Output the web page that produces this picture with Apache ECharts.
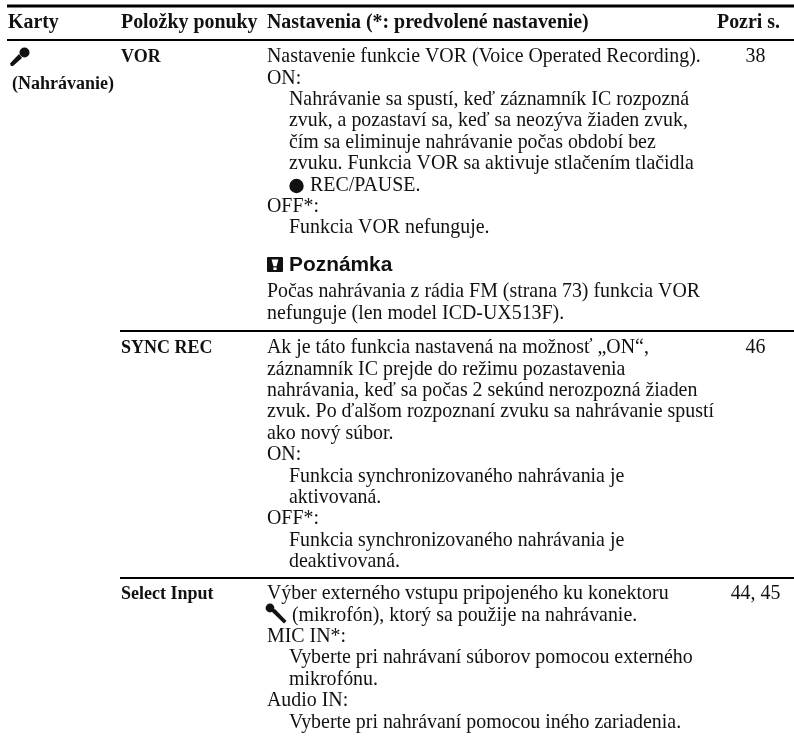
<!DOCTYPE html>
<html>
<head>
<meta charset="utf-8">
<style>
  html, body { margin: 0; padding: 0; background: #fff; }
  #main { width: 794px; height: 736px; }
</style>
<script src="https://cdn.jsdelivr.net/npm/echarts@6/dist/echarts.min.js"></script>
</head>
<body>
<div id="main"></div>
<script>
// table text, [indent level, line]
const headers = ['Karty', 'Položky ponuky', 'Nastavenia (*: predvolené nastavenie)', 'Pozri s.'];
const tabName = '(Nahrávanie)';
const items = ['VOR', 'SYNC REC', 'Select Input'];
const pages = ['38', '46', '44, 45'];
const vorLines = [
  [0, 'Nastavenie funkcie VOR (Voice Operated Recording).'],
  [0, 'ON:'],
  [1, 'Nahrávanie sa spustí, keď záznamník IC rozpozná'],
  [1, 'zvuk, a pozastaví sa, keď sa neozýva žiaden zvuk,'],
  [1, 'čím sa eliminuje nahrávanie počas období bez'],
  [1, 'zvuku. Funkcia VOR sa aktivuje stlačením tlačidla'],
  [2, 'REC/PAUSE.'],
  [0, 'OFF*:'],
  [1, 'Funkcia VOR nefunguje.']
];
const noteTitle = 'Poznámka';
const noteLines = [
  [0, 'Počas nahrávania z rádia FM (strana 73) funkcia VOR'],
  [0, 'nefunguje (len model ICD-UX513F).']
];
const syncLines = [
  [0, 'Ak je táto funkcia nastavená na možnosť „ON“,'],
  [0, 'záznamník IC prejde do režimu pozastavenia'],
  [0, 'nahrávania, keď sa počas 2 sekúnd nerozpozná žiaden'],
  [0, 'zvuk. Po ďalšom rozpoznaní zvuku sa nahrávanie spustí'],
  [0, 'ako nový súbor.'],
  [0, 'ON:'],
  [1, 'Funkcia synchronizovaného nahrávania je'],
  [1, 'aktivovaná.'],
  [0, 'OFF*:'],
  [1, 'Funkcia synchronizovaného nahrávania je'],
  [1, 'deaktivovaná.']
];
const inputLines = [
  [0, 'Výber externého vstupu pripojeného ku konektoru'],
  [3, '(mikrofón), ktorý sa použije na nahrávanie.'],
  [0, 'MIC IN*:'],
  [1, 'Vyberte pri nahrávaní súborov pomocou externého'],
  [1, 'mikrofónu.'],
  [0, 'Audio IN:'],
  [1, 'Vyberte pri nahrávaní pomocou iného zariadenia.']
];

// layout on the hidden axes (axes run 1:1 with the page)
const colX = [8, 121, 267, 717];
const pageX = 755.5;
const indentX = [0, 22, 43, 25];
const lineStep = 21.4;
const serif = '"Liberation Serif", "Times New Roman", serif';
const sans = '"Liberation Sans", Arial, sans-serif';

const marks = [];
const text = (x, y, str, size, bold, family, align) =>
  marks.push({ value: [x, y], kind: 'text', str, size, bold, family: family || serif, align: align || 'left' });
const rule = (x, y, w) => marks.push({ value: [x, y], kind: 'rule', x2: 794, w });
const icon = (x, y, kind) => marks.push({ value: [x, y], kind });

const bodySize = 19.9;
const headSize = 19.9;
const itemSize = 18;
const block = (lines, top) => lines.forEach(([lvl, str], i) =>
  text(colX[2] + indentX[lvl], top + i * lineStep, str, bodySize));

rule(7, 6, 3);
rule(7, 40, 2);
rule(120, 331, 2);
rule(120, 578, 2);

headers.forEach((h, i) => text(colX[i], 23, h, headSize, true));
icon(11, 65, 'micTab');
text(12, 84, tabName, itemSize, true);

const rowTops = [57, 348, 594];
items.forEach((it, i) => {
  text(colX[1], rowTops[i], it, itemSize, true);
  text(pageX, rowTops[i], pages[i], bodySize, false, serif, 'center');
});
block(vorLines, rowTops[0]);
block(noteLines, 292);
block(syncLines, rowTops[1]);
block(inputLines, rowTops[2]);
icon(296.5, 186, 'bullet');
icon(268, 265, 'note');
text(289, 265, noteTitle, 20.9, true, sans);
icon(270, 608, 'micPlug');

function renderMark(params, api) {
  const m = marks[params.dataIndex];
  const [x, y] = api.coord([api.value(0), api.value(1)]);
  if (m.kind === 'text') {
    return {
      type: 'text', x, y,
      style: {
        text: m.str, fill: '#111', textAlign: m.align, textVerticalAlign: 'middle',
        font: (m.bold ? 'bold ' : '') + m.size + 'px ' + m.family
      }
    };
  }
  if (m.kind === 'rule') {
    const end = api.coord([m.x2, api.value(1)]);
    return { type: 'line', shape: { x1: x, y1: y, x2: end[0], y2: y }, style: { stroke: '#000', lineWidth: m.w } };
  }
  if (m.kind === 'bullet') {
    return { type: 'circle', shape: { cx: x, cy: y, r: 7.2 }, style: { fill: '#111' } };
  }
  if (m.kind === 'micTab') {
    return {
      type: 'group', x, y, children: [
        { type: 'circle', shape: { cx: 13.5, cy: -12.5, r: 5 }, style: { fill: '#111' } },
        { type: 'polygon', shape: { points: [[-1, -1.5], [8, -11], [11, -7], [2, 1], [0, 1]] }, style: { fill: '#111' } }
      ]
    };
  }
  if (m.kind === 'micPlug') {
    return {
      type: 'group', x, y, children: [
        { type: 'circle', shape: { cx: 0, cy: 0, r: 4.4 }, style: { fill: '#111' } },
        { type: 'polygon', shape: { points: [[1, 3], [5, 1], [16.5, 13], [14, 15.5]] }, style: { fill: '#111' } }
      ]
    };
  }
  // note icon
  return {
    type: 'group', x, y, children: [
      { type: 'rect', shape: { x: -1, y: -8, width: 16, height: 15, r: 1 }, style: { fill: '#111' } },
      { type: 'polygon', shape: { points: [[3.6, -5.5], [10.4, -5.5], [8.6, 1.2], [5.4, 1.2]] }, style: { fill: '#fff' } },
      { type: 'rect', shape: { x: 5.4, y: 2.4, width: 3.2, height: 2.6 }, style: { fill: '#fff' } }
    ]
  };
}

const chart = echarts.init(document.getElementById('main'), null, { renderer: 'canvas' });
chart.setOption({
  animation: false,
  backgroundColor: '#fff',
  grid: { left: 0, right: 0, top: 0, bottom: 0 },
  xAxis: { type: 'value', min: 0, max: 794, show: false },
  yAxis: { type: 'value', min: 0, max: 736, inverse: true, show: false },
  series: [{
    type: 'custom',
    coordinateSystem: 'cartesian2d',
    clip: false,
    renderItem: renderMark,
    data: marks.map(m => m.value)
  }]
});
</script>
</body>
</html>
